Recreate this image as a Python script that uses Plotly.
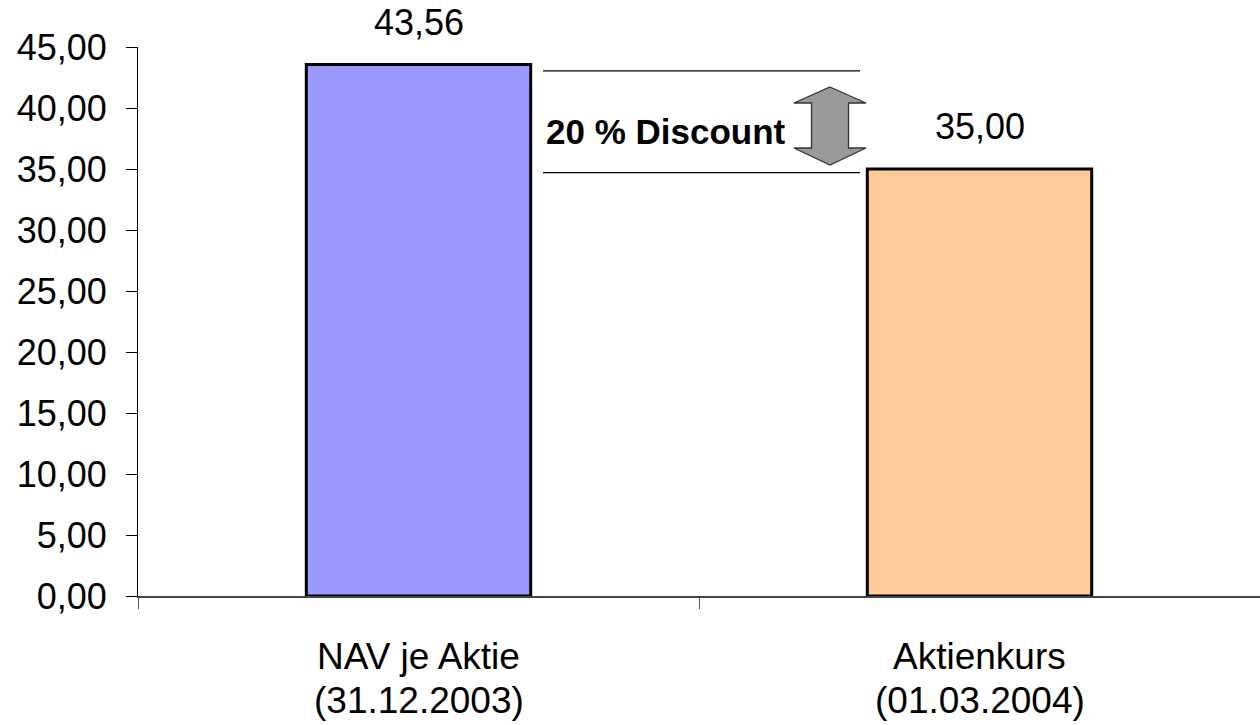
import plotly.graph_objects as go

categories = ["NAV je Aktie<br>(31.12.2003)", "Aktienkurs<br>(01.03.2004)"]
values = [43.56, 35.00]
bar_colors = ["#9999FF", "#FFCC99"]
y_ticks = [0, 5, 10, 15, 20, 25, 30, 35, 40, 45]
discount_label = "20 % Discount"

FONT = "Liberation Sans, Arial, sans-serif"
L, R, T, B = 138, 0, 47, 129
W, H = 1260, 725
PW = W - L - R
PH = H - T - B

def px2paper(px):
    return (px - L) / PW

fig = go.Figure()
fig.add_trace(go.Bar(
    x=categories, y=values,
    marker=dict(color=bar_colors, line=dict(color="black", width=3)),
    width=0.4, hoverinfo="skip",
))

# value labels
for c, v in zip(categories, values):
    fig.add_annotation(x=c, y=v, text=f"{v:.2f}".replace(".", ","), showarrow=False,
                       yanchor="bottom", yshift=20,
                       font=dict(family=FONT, size=36, color="black"))

# category labels (two lines each)
for c in categories:
    for i, line in enumerate(c.split("<br>")):
        fig.add_annotation(x=c, xref="x", yref="paper", y=0, yanchor="middle",
                           yshift=-(60 + 44 * i), text=line, showarrow=False,
                           font=dict(family=FONT, size=37, color="black"))

# discount helper lines (in data y)
y_hi, y_lo = 43.05, 34.7
for yy in (y_hi, y_lo):
    fig.add_shape(type="line", xref="paper", yref="y", x0=px2paper(543), x1=px2paper(860),
                  y0=yy, y1=yy, line=dict(color="black", width=1.3))

# double arrow
xc = px2paper(830)
hw = 36 / PW
sw = 18.5 / PW
yt, yhb, ylb, yb = 41.72, 40.41, 36.72, 35.33
pts = [(xc, yt), (xc + hw, yhb), (xc + sw, yhb), (xc + sw, ylb), (xc + hw, ylb),
       (xc, yb), (xc - hw, ylb), (xc - sw, ylb), (xc - sw, yhb), (xc - hw, yhb)]
path = "M " + " L ".join(f"{x},{y}" for x, y in pts) + " Z"
fig.add_shape(type="path", xref="paper", yref="y", path=path,
              fillcolor="#999999", line=dict(color="#333333", width=1.3))

fig.add_annotation(xref="paper", yref="y", x=px2paper(666), y=38.1,
                   text=f"<b>{discount_label}</b>", showarrow=False,
                   font=dict(family=FONT, size=35, color="black"))

fig.update_layout(
    width=W, height=H,
    margin=dict(l=L, r=R, t=T, b=B),
    paper_bgcolor="white", plot_bgcolor="white",
    separators=",.",
    showlegend=False,
    bargap=0.6,
)
fig.update_xaxes(
    type="category", range=[-0.5, 1.5], tickson="boundaries",
    ticks="outside", ticklen=11, tickcolor="#555555",
    showline=True, linecolor="#444444", linewidth=1.5,
    showgrid=False, showticklabels=False,
)
fig.update_yaxes(
    range=[0, 45], tickvals=y_ticks, tickformat=".2f",
    ticks="outside", ticklen=11, tickcolor="black",
    showline=True, linecolor="black", linewidth=1,
    showgrid=False, zeroline=False,
    tickfont=dict(family=FONT, size=36, color="black"),
    ticklabelstandoff=12,
)

fig.write_html("out.html")
